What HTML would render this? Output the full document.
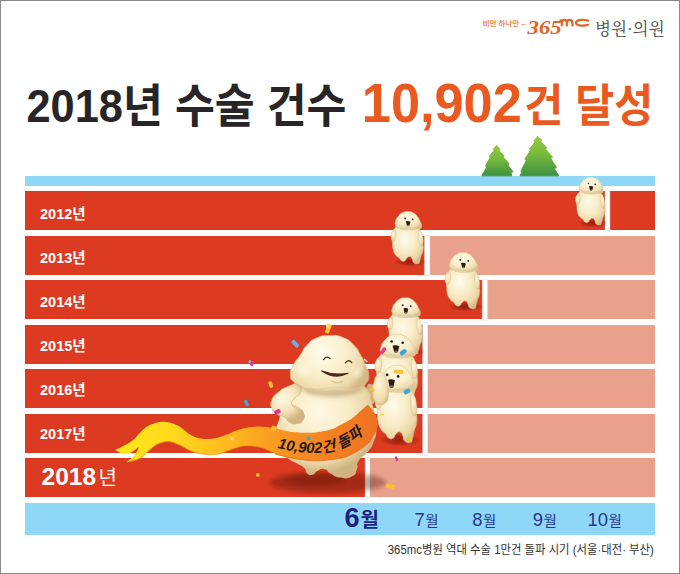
<!DOCTYPE html>
<html lang="ko">
<head>
<meta charset="utf-8">
<title>2018년 수술 건수 10,902건 달성</title>
<style>
html,body{margin:0;padding:0;background:#fff}
body{position:relative;width:680px;height:574px;overflow:hidden;font-family:"Liberation Sans",sans-serif}
.frame{position:absolute;left:0;top:0;width:678px;height:572px;border:1px solid #8b8b8b;background:#fff}
.sky{position:absolute;left:25.3px;top:176.2px;width:630.0px;height:9.8px;background:#8fd7f7}
.row{position:absolute;left:25.3px;width:630.0px;background:#dc3a21}
.pale{position:absolute;background:#eaa18b}
.months{position:absolute;left:25.3px;top:502.9px;width:630.0px;height:32px;background:#8fd7f7}
.art{position:absolute;left:0;top:0}
.art text{font-family:"Liberation Sans","Noto Sans CJK KR",sans-serif}
.sr{position:absolute;width:1px;height:1px;margin:-1px;padding:0;overflow:hidden;clip:rect(0 0 0 0);white-space:nowrap;border:0}
</style>
</head>
<body>
<div class="frame"></div>
<div class="sky"></div>
<div class="row" style="top:191.0px;height:39.0px"></div>
<div class="row" style="top:235.5px;height:39.0px"></div>
<div class="pale" style="top:235.5px;height:39.0px;left:430.3px;width:225.0px"></div>
<div class="row" style="top:280.0px;height:39.0px"></div>
<div class="pale" style="top:280.0px;height:39.0px;left:488.0px;width:167.3px"></div>
<div class="row" style="top:324.5px;height:39.0px"></div>
<div class="pale" style="top:324.5px;height:39.0px;left:428.2px;width:227.1px"></div>
<div class="row" style="top:369.0px;height:39.0px"></div>
<div class="pale" style="top:369.0px;height:39.0px;left:428.2px;width:227.1px"></div>
<div class="row" style="top:413.5px;height:39.0px"></div>
<div class="pale" style="top:413.5px;height:39.0px;left:428.2px;width:227.1px"></div>
<div class="row" style="top:458.0px;height:39.2px"></div>
<div class="pale" style="top:458.0px;height:39.2px;left:370.2px;width:285.1px"></div>
<div class="months"></div>
<svg class="art" width="680" height="574" viewBox="0 0 680 574" aria-hidden="true">
<text x="26.5" y="121.6" font-size="46" font-weight="bold" fill="#272526" textLength="320" lengthAdjust="spacingAndGlyphs" xml:space="preserve">2018년 수술 건수</text>
<text x="361.8" y="122" font-size="55" font-weight="bold" fill="#ea5a20" textLength="160" lengthAdjust="spacingAndGlyphs">10,902</text>
<text x="524.3" y="122" font-size="45" font-weight="bold" fill="#ea5a20" textLength="129" lengthAdjust="spacingAndGlyphs" xml:space="preserve">건 달성</text>
<text x="40" y="219" font-size="14.5" font-weight="bold" fill="#fff">2012년</text>
<text x="40" y="262.94" font-size="14.5" font-weight="bold" fill="#fff">2013년</text>
<text x="40" y="306.88" font-size="14.5" font-weight="bold" fill="#fff">2014년</text>
<text x="40" y="350.82" font-size="14.5" font-weight="bold" fill="#fff">2015년</text>
<text x="40" y="394.76" font-size="14.5" font-weight="bold" fill="#fff">2016년</text>
<text x="40" y="438.7" font-size="14.5" font-weight="bold" fill="#fff">2017년</text>
<text x="41.6" y="484.76" font-size="24.5" font-weight="bold" fill="#fff">2018<tspan dx="2.5" font-size="20" font-weight="normal">년</tspan></text>
<text x="344.5" y="526.6" font-size="27" font-weight="bold" fill="#1b1f83">6<tspan dx="1" font-size="20">월</tspan></text>
<text x="414.5" y="526" font-size="18.5" fill="#27368f">7<tspan dx="0.5" font-size="14.5">월</tspan></text>
<text x="472.3" y="526" font-size="18.5" fill="#27368f">8<tspan dx="0.5" font-size="14.5">월</tspan></text>
<text x="532.7" y="526" font-size="18.5" fill="#27368f">9<tspan dx="0.5" font-size="14.5">월</tspan></text>
<text x="587.5" y="526" font-size="18.5" fill="#27368f">10<tspan dx="0.5" font-size="14.5">월</tspan></text>
<text x="387.8" y="553.6" font-size="12.5" fill="#333" textLength="266" lengthAdjust="spacingAndGlyphs" xml:space="preserve">365mc병원 역대 수술 1만건 돌파 시기 (서울·대전· 부산)</text>
<defs><linearGradient id="tg" x1="0" y1="0" x2="0" y2="1"><stop offset="0" stop-color="#97cc3c"/><stop offset=".5" stop-color="#72b63e"/><stop offset="1" stop-color="#3f9142"/></linearGradient></defs>
<path fill="url(#tg)" stroke="url(#tg)" stroke-width="1" stroke-linejoin="round" d="M496.5 145.2 L500.1 149.7 L499.2 150.7 L504.3 156.0 L503.1 157.1 L509.2 163.8 L507.8 165.0 L512.9 171.7 L510.8 172.5 L511.7 175.8 L481.8 175.8 L486.9 166.8 L485.4 165.9 L490.3 157.5 L489.1 156.6 L494.0 150.7 L493.1 149.7Z"/>
<path fill="url(#tg)" stroke="url(#tg)" stroke-width="1" stroke-linejoin="round" d="M537.5 136.6 L541.9 140.3 L540.8 141.7 L546.9 148.0 L545.5 149.3 L552.6 157.3 L550.8 158.6 L556.6 167.6 L554.3 168.5 L558.8 175.8 L519.9 175.8 L522.3 171.8 L520.9 171.2 L526.3 160.3 L524.8 159.3 L530.7 150.1 L529.5 149.1 L534.9 142.1 L533.8 141.1Z"/>
<rect x="605.0" y="190.8" width="5.0" height="40.4" rx="0.8" fill="#fff" stroke="#c9cbd6" stroke-width="0.5"/>
<rect x="424.4" y="235.3" width="5.6" height="40.4" rx="0.8" fill="#fff" stroke="#c9cbd6" stroke-width="0.5"/>
<rect x="482.2" y="279.8" width="5.6" height="40.4" rx="0.8" fill="#fff" stroke="#c9cbd6" stroke-width="0.5"/>
<rect x="365.1" y="457.8" width="4.9" height="40.4" rx="0.8" fill="#fff" stroke="#c9cbd6" stroke-width="0.5"/>
<rect x="422.6" y="322.4" width="5.3" height="133.2" rx="0.8" fill="#fff" stroke="#c9cbd6" stroke-width="0.5"/>
<defs>
<radialGradient id="gb" cx=".42" cy=".36" r=".7"><stop offset="0" stop-color="#fffbea"/><stop offset=".45" stop-color="#f9edc9"/><stop offset=".8" stop-color="#ecd9a8"/><stop offset="1" stop-color="#d6bb86"/></radialGradient>
<radialGradient id="gh" cx=".45" cy=".35" r=".68"><stop offset="0" stop-color="#fffbe8"/><stop offset=".5" stop-color="#faefcd"/><stop offset=".85" stop-color="#eedcae"/><stop offset="1" stop-color="#dcc391"/></radialGradient>
<radialGradient id="ga" cx=".4" cy=".35" r=".75"><stop offset="0" stop-color="#fdf5d8"/><stop offset=".7" stop-color="#efdcae"/><stop offset="1" stop-color="#d2b682"/></radialGradient>
<radialGradient id="gs" cx=".5" cy=".5" r=".5"><stop offset="0" stop-color="#7d1408" stop-opacity=".75"/><stop offset=".6" stop-color="#8f1a0a" stop-opacity=".5"/><stop offset="1" stop-color="#a8200d" stop-opacity="0"/></radialGradient>
<radialGradient id="gS" cx=".5" cy=".5" r=".5"><stop offset="0" stop-color="#6b1006" stop-opacity=".62"/><stop offset=".7" stop-color="#7a1408" stop-opacity=".5"/><stop offset="1" stop-color="#8d1a0b" stop-opacity="0"/></radialGradient>
<linearGradient id="rib" gradientUnits="userSpaceOnUse" x1="116" y1="0" x2="380" y2="0"><stop offset="0" stop-color="#ffe81a"/><stop offset=".21" stop-color="#ffd91c"/><stop offset=".455" stop-color="#fdb51f"/><stop offset=".66" stop-color="#f7921f"/><stop offset=".8" stop-color="#f58220"/><stop offset="1" stop-color="#ef7021"/></linearGradient>

<filter id="b2" x="-30%" y="-30%" width="160%" height="160%"><feGaussianBlur stdDeviation="2"/></filter>
<filter id="b1" x="-30%" y="-30%" width="160%" height="160%"><feGaussianBlur stdDeviation="1"/></filter>
<radialGradient id="Gb" gradientUnits="userSpaceOnUse" cx="318" cy="412" r="62"><stop offset="0" stop-color="#fff9e4"/><stop offset=".5" stop-color="#f8ebc6"/><stop offset=".82" stop-color="#ead6a6"/><stop offset="1" stop-color="#cfb480"/></radialGradient>
<radialGradient id="Gh" gradientUnits="userSpaceOnUse" cx="322" cy="352" r="48"><stop offset="0" stop-color="#fffbea"/><stop offset=".5" stop-color="#faefcc"/><stop offset=".85" stop-color="#ecd9aa"/><stop offset="1" stop-color="#d4ba86"/></radialGradient>
<radialGradient id="Ga" gradientUnits="userSpaceOnUse" cx="283" cy="398" r="24"><stop offset="0" stop-color="#fff8e0"/><stop offset=".6" stop-color="#f3e2b7"/><stop offset="1" stop-color="#d0b480"/></radialGradient>
<radialGradient id="Gc" cx=".5" cy=".5" r=".5"><stop offset="0" stop-color="#fffdf0" stop-opacity=".9"/><stop offset="1" stop-color="#fffdf0" stop-opacity="0"/></radialGradient>
<path id="ribtext" d="M277 448 Q318 458 342 448 Q358 441 375 423" fill="none"/>
<symbol id="m" overflow="visible"><ellipse cx="2.5" cy="54" rx="17.5" ry="5" fill="url(#gs)"/><path d="M-9.5 15.5C-14.4 16.9 -12.1 15.9 -14.7 18.8C-17.3 21.7 -16.6 20.8 -17.4 24.1C-18.2 27.4 -17.3 25.5 -17.0 28.8C-16.7 32.1 -16.9 30.3 -16.5 34.0C-16.1 37.7 -16.9 36.0 -15.9 40.0C-14.9 44.0 -15.7 42.8 -13.5 46.1C-11.3 49.4 -11.3 47.8 -9.2 50.0C-7.1 52.2 -9.1 51.7 -7.2 52.7C-5.3 53.7 -5.5 53.9 -3.4 53.0C-1.3 52.1 -2.9 51.5 -1.0 50.0C0.9 48.5 0.5 48.0 2.4 48.4C4.3 48.8 3.5 49.0 4.8 51.2C6.1 53.4 4.2 53.4 6.4 55.0C8.6 56.6 9.1 56.6 11.3 56.0C13.5 55.4 11.9 55.9 12.9 53.2C13.9 50.5 13.0 52.0 14.2 48.0C15.4 44.0 15.8 46.0 16.4 41.2C17.0 36.4 16.3 38.0 16.0 33.5C15.7 29.0 16.0 31.4 15.4 27.8C14.8 24.2 15.8 26.0 14.2 22.6C12.6 19.2 15.2 20.3 10.5 17.6C5.8 14.9 6.7 15.2 0.0 14.5C-6.7 13.8 -4.6 14.1 -9.5 15.5Z" fill="url(#gb)" stroke="#d9c08c" stroke-width=".5"/><path d="M-14.2 19.6C-15.7 19.3 -15.7 19.7 -17.0 22.0C-18.3 24.3 -18.0 23.6 -18.0 26.5C-18.0 29.4 -18.1 28.9 -17.0 30.6C-15.9 32.3 -15.9 32.5 -14.6 31.6C-13.3 30.7 -13.7 30.9 -13.0 28.0C-12.3 25.1 -12.2 25.6 -12.6 22.8C-13.0 20.0 -12.7 19.9 -14.2 19.6Z" fill="url(#ga)" stroke="#d4b987" stroke-width=".35"/><path d="M12.4 20.6C13.5 19.1 13.3 20.1 14.6 22.6C15.9 25.1 15.6 24.3 16.2 28.0C16.8 31.7 16.9 30.7 16.4 33.6C15.9 36.5 15.9 36.5 14.6 36.6C13.3 36.7 13.7 37.2 12.6 34.0C11.5 30.8 11.5 31.5 11.4 27.0C11.3 22.5 11.3 22.1 12.4 20.6Z" fill="url(#ga)" stroke="#d4b987" stroke-width=".35"/><ellipse cx="1" cy="18.2" rx="10.5" ry="2" fill="#b89a62" opacity=".35"/><path d="M-0.1 0.0C3.6 0.0 2.1 -0.5 5.4 1.1C8.7 2.7 7.3 1.8 9.8 4.8C12.3 7.8 11.3 6.5 13.0 10.0C14.7 13.5 14.9 12.5 14.8 15.2C14.7 17.9 15.1 17.5 12.8 18.2C10.5 18.9 12.1 17.4 8.0 17.2C3.9 17.0 5.4 17.8 0.5 17.6C-4.4 17.4 -3.1 16.7 -6.8 16.6C-10.5 16.5 -8.5 17.9 -10.6 17.4C-12.7 16.9 -12.4 17.5 -13.2 15.0C-14.0 12.5 -14.1 13.3 -13.0 9.8C-11.9 6.3 -12.3 7.5 -9.8 4.6C-7.3 1.7 -8.8 2.6 -5.6 1.1C-2.4 -0.4 -3.8 0.0 -0.1 0.0Z" fill="url(#gh)" stroke="#dcc594" stroke-width=".5"/><g transform="translate(0.0 0.0) scale(1.0)"><circle cx="-2.8" cy="7.3" r=".95" fill="#2a2118"/><circle cx="5.2" cy="8.3" r=".95" fill="#2a2118"/><path d="M-2.1 10.4Q.4 9.7 2.8 10.8L1.8 15Q.4 16.3-1 15Z" fill="#2b1b15"/><path d="M-.6 14.4Q.4 13.6 1.5 14.5L1.5 15.1Q.4 16-.8 15.1Z" fill="#8a7468"/></g></symbol></defs>
<use href="#m" transform="translate(590.8 177.4) scale(0.845)"/>
<use href="#m" transform="translate(407.8 211.6) scale(0.93)"/>
<use href="#m" transform="translate(463.1 252.6) scale(1.0)"/>
<ellipse cx="328" cy="482.6" rx="58" ry="10.6" fill="#3c0a00" opacity=".34" filter="url(#b2)"/><ellipse cx="316" cy="479.6" rx="30" ry="6" fill="#3c0a00" opacity=".22" filter="url(#b2)"/>
<rect x="-2.1" y="-4.8" width="4.2" height="9.6" rx="1.2" fill="#fbc42e" transform="translate(328.4 328.6) rotate(22)"/><rect x="-1.7" y="-1.8" width="3.4" height="3.6" rx="1" fill="#fde27c" transform="translate(327.9 326.2) rotate(22)"/><rect x="-2.0" y="-4.3" width="4.0" height="8.6" rx="1.4" fill="#5fb4e6" transform="translate(295.2 343.8) rotate(-42)"/><rect x="-1.7" y="-2.3" width="3.4" height="4.6" rx="0.8" fill="#e6349a" transform="translate(252.0 363.6) rotate(30)"/><rect x="-1.2" y="-1.5" width="2.4" height="3.0" rx="0.6" fill="#6ec3ea" transform="translate(249.8 361.6) rotate(30)"/><rect x="-1.8" y="-3.2" width="3.6" height="6.4" rx="1" fill="#fbc42e" transform="translate(270.8 384.6) rotate(-20)"/><rect x="-1.6" y="-3.2" width="3.2" height="6.4" rx="1" fill="#39a9e0" transform="translate(246.4 403.0) rotate(-25)"/><rect x="-1.6" y="-1.6" width="3.2" height="3.2" rx="0.4" fill="#fbc83c" transform="translate(257.9 475.0) rotate(8)"/><rect x="-2.4" y="-0.8" width="4.8" height="1.6" rx="0.6" fill="#d9d2c8" transform="translate(365.6 360.4) rotate(40)"/>
<use href="#m" transform="translate(405.5 297.9) scale(1.0)"/>
<g transform="translate(397.2 334.4) scale(1.23 1.2)"><path d="M-9.5 15.5C-14.4 16.9 -12.1 15.9 -14.7 18.8C-17.3 21.7 -16.6 20.8 -17.4 24.1C-18.2 27.4 -17.3 25.5 -17.0 28.8C-16.7 32.1 -16.9 30.3 -16.5 34.0C-16.1 37.7 -16.9 36.0 -15.9 40.0C-14.9 44.0 -15.7 42.8 -13.5 46.1C-11.3 49.4 -11.3 47.8 -9.2 50.0C-7.1 52.2 -9.1 51.7 -7.2 52.7C-5.3 53.7 -5.5 53.9 -3.4 53.0C-1.3 52.1 -2.9 51.5 -1.0 50.0C0.9 48.5 0.5 48.0 2.4 48.4C4.3 48.8 3.5 49.0 4.8 51.2C6.1 53.4 4.2 53.4 6.4 55.0C8.6 56.6 9.1 56.6 11.3 56.0C13.5 55.4 11.9 55.9 12.9 53.2C13.9 50.5 13.0 52.0 14.2 48.0C15.4 44.0 15.8 46.0 16.4 41.2C17.0 36.4 16.3 38.0 16.0 33.5C15.7 29.0 16.0 31.4 15.4 27.8C14.8 24.2 15.8 26.0 14.2 22.6C12.6 19.2 15.2 20.3 10.5 17.6C5.8 14.9 6.7 15.2 0.0 14.5C-6.7 13.8 -4.6 14.1 -9.5 15.5Z" fill="url(#gb)" stroke="#d9c08c" stroke-width=".5"/><path d="M-14.2 19.6C-15.7 19.3 -15.7 19.7 -17.0 22.0C-18.3 24.3 -18.0 23.6 -18.0 26.5C-18.0 29.4 -18.1 28.9 -17.0 30.6C-15.9 32.3 -15.9 32.5 -14.6 31.6C-13.3 30.7 -13.7 30.9 -13.0 28.0C-12.3 25.1 -12.2 25.6 -12.6 22.8C-13.0 20.0 -12.7 19.9 -14.2 19.6Z" fill="url(#ga)" stroke="#d4b987" stroke-width=".35"/><path d="M12.4 20.6C13.5 19.1 13.3 20.1 14.6 22.6C15.9 25.1 15.6 24.3 16.2 28.0C16.8 31.7 16.9 30.7 16.4 33.6C15.9 36.5 15.9 36.5 14.6 36.6C13.3 36.7 13.7 37.2 12.6 34.0C11.5 30.8 11.5 31.5 11.4 27.0C11.3 22.5 11.3 22.1 12.4 20.6Z" fill="url(#ga)" stroke="#d4b987" stroke-width=".35"/><ellipse cx="1" cy="18.2" rx="10.5" ry="2" fill="#b89a62" opacity=".35"/><path d="M-0.1 0.0C3.6 0.0 2.1 -0.5 5.4 1.1C8.7 2.7 7.3 1.8 9.8 4.8C12.3 7.8 11.3 6.5 13.0 10.0C14.7 13.5 14.9 12.5 14.8 15.2C14.7 17.9 15.1 17.5 12.8 18.2C10.5 18.9 12.1 17.4 8.0 17.2C3.9 17.0 5.4 17.8 0.5 17.6C-4.4 17.4 -3.1 16.7 -6.8 16.6C-10.5 16.5 -8.5 17.9 -10.6 17.4C-12.7 16.9 -12.4 17.5 -13.2 15.0C-14.0 12.5 -14.1 13.3 -13.0 9.8C-11.9 6.3 -12.3 7.5 -9.8 4.6C-7.3 1.7 -8.8 2.6 -5.6 1.1C-2.4 -0.4 -3.8 0.0 -0.1 0.0Z" fill="url(#gh)" stroke="#dcc594" stroke-width=".5"/><g transform="translate(-1.4 -2.3) scale(1.12)"><circle cx="-2.8" cy="7.3" r=".95" fill="#2a2118"/><circle cx="5.2" cy="8.3" r=".95" fill="#2a2118"/><path d="M-2.1 10.4Q.4 9.7 2.8 10.8L1.8 15Q.4 16.3-1 15Z" fill="#2b1b15"/><path d="M-.6 14.4Q.4 13.6 1.5 14.5L1.5 15.1Q.4 16-.8 15.1Z" fill="#8a7468"/></g></g>
<rect x="-3.7" y="-1.8" width="7.4" height="3.6" rx="1.4" fill="#e8359b" transform="translate(383.2 350.7) rotate(-52)"/><rect x="-3.6" y="-2.2" width="7.2" height="4.4" rx="1.8" fill="#37a8e0" transform="translate(403.2 352.2) rotate(-35)"/>
<g transform="translate(397.0 365.4) scale(1.2 1.375)"><ellipse cx="2.5" cy="54" rx="17.5" ry="5" fill="url(#gs)"/><path d="M-9.5 15.5C-14.4 16.9 -12.1 15.9 -14.7 18.8C-17.3 21.7 -16.6 20.8 -17.4 24.1C-18.2 27.4 -17.3 25.5 -17.0 28.8C-16.7 32.1 -16.9 30.3 -16.5 34.0C-16.1 37.7 -16.9 36.0 -15.9 40.0C-14.9 44.0 -15.7 42.8 -13.5 46.1C-11.3 49.4 -11.3 47.8 -9.2 50.0C-7.1 52.2 -9.1 51.7 -7.2 52.7C-5.3 53.7 -5.5 53.9 -3.4 53.0C-1.3 52.1 -2.9 51.5 -1.0 50.0C0.9 48.5 0.5 48.0 2.4 48.4C4.3 48.8 3.5 49.0 4.8 51.2C6.1 53.4 4.2 53.4 6.4 55.0C8.6 56.6 9.1 56.6 11.3 56.0C13.5 55.4 11.9 55.9 12.9 53.2C13.9 50.5 13.0 52.0 14.2 48.0C15.4 44.0 15.8 46.0 16.4 41.2C17.0 36.4 16.3 38.0 16.0 33.5C15.7 29.0 16.0 31.4 15.4 27.8C14.8 24.2 15.8 26.0 14.2 22.6C12.6 19.2 15.2 20.3 10.5 17.6C5.8 14.9 6.7 15.2 0.0 14.5C-6.7 13.8 -4.6 14.1 -9.5 15.5Z" fill="url(#gb)" stroke="#d9c08c" stroke-width=".5"/><path d="M-14.2 19.6C-15.7 19.3 -15.7 19.7 -17.0 22.0C-18.3 24.3 -18.0 23.6 -18.0 26.5C-18.0 29.4 -18.1 28.9 -17.0 30.6C-15.9 32.3 -15.9 32.5 -14.6 31.6C-13.3 30.7 -13.7 30.9 -13.0 28.0C-12.3 25.1 -12.2 25.6 -12.6 22.8C-13.0 20.0 -12.7 19.9 -14.2 19.6Z" fill="url(#ga)" stroke="#d4b987" stroke-width=".35"/><path d="M12.4 20.6C13.5 19.1 13.3 20.1 14.6 22.6C15.9 25.1 15.6 24.3 16.2 28.0C16.8 31.7 16.9 30.7 16.4 33.6C15.9 36.5 15.9 36.5 14.6 36.6C13.3 36.7 13.7 37.2 12.6 34.0C11.5 30.8 11.5 31.5 11.4 27.0C11.3 22.5 11.3 22.1 12.4 20.6Z" fill="url(#ga)" stroke="#d4b987" stroke-width=".35"/><ellipse cx="1" cy="18.2" rx="10.5" ry="2" fill="#b89a62" opacity=".35"/><path d="M-0.1 0.0C3.6 0.0 2.1 -0.5 5.4 1.1C8.7 2.7 7.3 1.8 9.8 4.8C12.3 7.8 11.3 6.5 13.0 10.0C14.7 13.5 14.9 12.5 14.8 15.2C14.7 17.9 15.1 17.5 12.8 18.2C10.5 18.9 12.1 17.4 8.0 17.2C3.9 17.0 5.4 17.8 0.5 17.6C-4.4 17.4 -3.1 16.7 -6.8 16.6C-10.5 16.5 -8.5 17.9 -10.6 17.4C-12.7 16.9 -12.4 17.5 -13.2 15.0C-14.0 12.5 -14.1 13.3 -13.0 9.8C-11.9 6.3 -12.3 7.5 -9.8 4.6C-7.3 1.7 -8.8 2.6 -5.6 1.1C-2.4 -0.4 -3.8 0.0 -0.1 0.0Z" fill="url(#gh)" stroke="#dcc594" stroke-width=".5"/><g transform="translate(-5.0 -1.6) scale(1.15)"><circle cx="-2.8" cy="7.3" r=".95" fill="#2a2118"/><circle cx="5.2" cy="8.3" r=".95" fill="#2a2118"/><path d="M-2.1 10.4Q.4 9.7 2.8 10.8L1.8 15Q.4 16.3-1 15Z" fill="#2b1b15"/><path d="M-.6 14.4Q.4 13.6 1.5 14.5L1.5 15.1Q.4 16-.8 15.1Z" fill="#8a7468"/></g></g>
<rect x="-4.5" y="-2.0" width="9.0" height="4.0" rx="1.2" fill="#fbc233" transform="translate(398.6 371.8) rotate(4)"/><rect x="-3.3" y="-2.3" width="6.6" height="4.6" rx="1.6" fill="#37a8e0" transform="translate(407.0 391.5) rotate(-25)"/>
<rect x="-2.1" y="-1.5" width="4.2" height="3.0" rx="0.6" fill="#fbc02c" transform="translate(410.0 439.4) rotate(30)"/><rect x="-2.0" y="-0.7" width="4.0" height="1.4" rx="0.5" fill="#fbd054" transform="translate(381.8 414.8) rotate(0)"/>
<path d="M367.0 386.6C368.7 382.6 368.8 384.1 372.0 384.6C375.2 385.1 374.7 384.5 376.6 388.0C378.5 391.5 378.1 390.5 377.6 395.0C377.1 399.5 377.3 398.9 375.0 401.6C372.7 404.3 373.3 404.7 370.6 403.0C367.9 401.3 368.2 402.1 367.0 396.6C365.8 391.1 365.3 390.6 367.0 386.6Z" fill="url(#Ga)" stroke="#cdb07c" stroke-width=".5"/><path d="M306.0 382.0C293.3 385.3 299.5 381.3 292.0 388.0C284.5 394.7 287.7 392.0 283.5 402.0C279.3 412.0 281.9 408.7 279.5 418.0C277.1 427.3 277.0 422.3 276.2 430.0C275.4 437.7 275.3 433.8 277.2 441.0C279.1 448.2 278.0 445.6 281.8 451.5C285.6 457.4 283.4 454.8 288.5 458.8C293.6 462.8 291.8 460.5 297.0 463.6C302.2 466.7 300.9 464.8 304.2 468.0C307.5 471.2 304.2 470.9 307.0 473.2C309.8 475.5 309.1 475.5 312.6 474.8C316.1 474.1 313.4 472.9 317.4 471.0C321.4 469.1 320.2 468.3 324.6 469.2C329.0 470.1 325.5 470.8 330.6 473.6C335.7 476.4 333.0 476.6 340.0 477.6C347.0 478.6 345.9 479.5 351.6 476.6C357.3 473.7 354.7 474.2 357.0 469.0C359.3 463.8 355.1 466.7 358.6 461.0C362.1 455.3 362.6 458.3 367.6 452.0C372.6 445.7 370.7 449.3 373.6 442.0C376.5 434.7 375.9 439.0 376.4 430.0C376.9 421.0 376.8 424.3 375.2 415.0C373.6 405.7 374.1 410.3 371.6 402.0C369.1 393.7 373.5 397.0 367.6 390.0C361.7 383.0 366.5 385.0 354.0 381.0C341.5 377.0 346.0 377.7 330.0 378.0C314.0 378.3 318.7 378.7 306.0 382.0Z" fill="url(#Gb)"/>
<path d="M115.4 449.9L116.7 449.3L118.4 448.4L120.5 447.4L122.8 446.3L125.2 445.1L127.5 443.8L129.8 442.5L131.8 441.1L133.6 439.6L135.4 437.9L137.1 436.1L138.7 434.3L140.4 432.5L141.9 430.7L143.5 429.2L145.1 427.9L146.7 426.8L148.2 425.9L149.7 425.1L151.2 424.5L152.7 423.9L154.1 423.4L155.6 423.0L157.0 422.6L158.4 422.3L159.7 422.0L161.0 421.8L162.3 421.7L163.6 421.7L164.9 421.8L166.2 421.9L167.6 422.1L169.0 422.4L170.5 422.8L172.0 423.3L173.6 423.8L175.1 424.4L176.6 425.1L178.1 425.8L179.5 426.6L180.9 427.5L182.2 428.4L183.5 429.5L184.8 430.6L186.1 431.7L187.4 432.7L188.7 433.7L190.0 434.5L191.3 435.2L192.6 435.9L193.8 436.5L195.1 437.0L196.4 437.5L197.8 437.9L199.1 438.2L200.6 438.5L202.1 438.7L203.7 438.9L205.4 439.0L207.1 439.0L208.8 439.0L210.5 438.9L212.2 438.7L213.9 438.5L215.6 438.2L217.2 437.8L218.9 437.4L220.5 436.8L222.2 436.3L223.8 435.7L225.5 435.1L227.1 434.5L228.7 433.9L230.3 433.2L231.9 432.5L233.5 431.8L235.2 431.0L236.8 430.4L238.5 429.7L240.3 429.2L242.2 428.7L244.1 428.3L246.1 427.9L248.1 427.5L250.1 427.2L252.2 426.9L254.2 426.7L256.2 426.6L258.2 426.6L260.2 426.6L262.2 426.7L264.1 426.8L266.1 427.0L268.1 427.2L270.1 427.5L272.1 427.8L274.1 428.1L276.2 428.6L278.2 429.1L280.3 429.6L282.3 430.1L284.3 430.6L286.2 431.0L288.0 431.4L289.8 431.7L291.6 432.0L293.3 432.2L295.0 432.4L296.6 432.6L297.9 432.8L299.1 432.9L300.0 433.0L300.0 459.4L299.1 459.2L297.8 459.0L296.3 458.7L294.7 458.4L292.9 458.0L291.2 457.7L289.5 457.3L288.0 457.0L286.6 456.7L285.4 456.4L284.2 456.1L282.9 455.9L281.7 455.5L280.4 455.2L279.0 454.7L277.4 454.2L275.7 453.5L273.8 452.7L271.8 451.8L269.8 450.9L267.7 450.0L265.6 449.1L263.5 448.3L261.5 447.7L259.5 447.2L257.5 446.8L255.4 446.5L253.4 446.2L251.4 446.0L249.4 445.9L247.5 445.9L245.6 445.9L243.8 446.1L242.1 446.3L240.5 446.7L238.8 447.1L237.2 447.6L235.6 448.1L234.0 448.6L232.4 449.1L230.8 449.6L229.1 450.3L227.5 450.9L225.8 451.6L224.2 452.3L222.5 452.9L220.9 453.4L219.2 453.8L217.5 454.1L215.9 454.3L214.2 454.5L212.6 454.6L210.9 454.6L209.2 454.6L207.6 454.5L205.9 454.4L204.2 454.2L202.6 454.0L200.9 453.8L199.3 453.5L197.6 453.1L196.0 452.7L194.3 452.2L192.7 451.7L191.0 451.0L189.3 450.3L187.6 449.4L185.9 448.4L184.3 447.5L182.6 446.6L181.0 445.8L179.5 445.1L178.1 444.5L176.7 443.9L175.3 443.3L174.0 442.8L172.8 442.4L171.5 442.0L170.2 441.7L168.9 441.6L167.6 441.6L166.2 441.6L164.9 441.8L163.5 442.1L162.2 442.4L160.9 442.8L159.6 443.3L158.3 443.8L157.1 444.4L155.9 445.1L154.7 445.9L153.6 446.7L152.4 447.6L151.3 448.6L150.1 449.5L149.0 450.4L147.9 451.4L146.8 452.4L145.7 453.4L144.7 454.5L143.5 455.6L142.4 456.6L141.1 457.5L139.8 458.3L138.2 459.0L136.5 459.7L134.5 460.3L132.6 460.8L130.7 461.3L129.0 461.7L127.6 462.0L126.5 462.3L127.3 461.6L128.6 460.6L130.0 459.5L131.4 458.2L132.8 456.9L134.0 455.6L135.1 454.2L136.2 452.5L137.2 450.8L138.1 449.2L138.6 448.0L138.6 447.4L138.0 447.5L137.0 448.3L135.6 449.4L134.0 450.7L132.4 451.8L131.0 452.6L129.7 453.1L128.3 453.6L127.0 453.9L125.7 454.1L124.3 454.1L123.0 454.0L121.6 453.6L120.2 452.9L118.7 452.0L117.4 451.2L116.2 450.4Z" fill="url(#rib)"/><path d="M126.5 462.3L127.6 462.0L129.0 461.7L130.7 461.3L132.6 460.8L134.5 460.3L136.5 459.7L138.2 459.0L139.8 458.3L141.1 457.5L142.4 456.6L143.5 455.6L144.7 454.5L145.7 453.4L146.8 452.4L147.9 451.4L149.0 450.4L150.1 449.5L151.3 448.6L152.4 447.6L153.6 446.7L154.7 445.9L155.9 445.1L157.1 444.4L158.3 443.8L159.6 443.3L160.9 442.8L162.2 442.4L163.5 442.1L164.9 441.8L166.2 441.6L167.6 441.6L168.9 441.6L170.2 441.7L171.5 442.0L172.8 442.4L174.0 442.8L175.3 443.3L176.7 443.9L178.1 444.5L179.5 445.1L181.0 445.8L182.6 446.6L184.3 447.5L185.9 448.4L187.6 449.4L189.3 450.3L191.0 451.0L192.7 451.7L194.3 452.2L196.0 452.7L197.6 453.1L199.3 453.5L200.9 453.8L202.6 454.0L204.2 454.2L205.9 454.4L207.6 454.5L209.2 454.6L210.9 454.6L212.6 454.6L214.2 454.5L215.9 454.3L217.5 454.1L219.2 453.8L220.9 453.4L222.5 452.9L224.2 452.3L225.8 451.6L227.5 450.9L229.1 450.3L230.8 449.6L232.4 449.1L234.0 448.6L235.6 448.1L237.2 447.6L238.8 447.1L240.5 446.7L242.1 446.3L243.8 446.1L245.6 445.9L247.5 445.9L249.4 445.9L251.4 446.0L253.4 446.2L255.4 446.5L257.5 446.8L259.5 447.2L261.5 447.7L263.5 448.3L265.6 449.1L267.7 450.0L269.8 450.9L271.8 451.8L273.8 452.7L275.7 453.5L277.4 454.2L279.0 454.7L280.4 455.2L281.7 455.5L282.9 455.9L284.2 456.1L285.4 456.4L286.6 456.7L288.0 457.0L289.5 457.3L291.2 457.7L292.9 458.0L294.7 458.4L296.3 458.7L297.8 459.0L299.1 459.2L300.0 459.4" fill="none" stroke="#e98a12" stroke-opacity=".55" stroke-width="1.2"/>
<path d="M275.0 429.8L275.8 429.9L276.8 430.1L278.0 430.3L279.3 430.5L280.8 430.8L282.2 431.0L283.7 431.2L285.0 431.4L286.3 431.6L287.6 431.7L288.9 431.8L290.3 432.0L291.6 432.1L293.0 432.2L294.3 432.3L295.6 432.4L296.9 432.5L298.2 432.6L299.5 432.6L300.8 432.7L302.1 432.7L303.4 432.8L304.7 432.8L306.0 432.8L307.2 432.8L308.4 432.8L309.6 432.8L310.8 432.8L312.0 432.8L313.3 432.7L314.7 432.6L316.2 432.4L317.9 432.1L319.8 431.8L321.9 431.5L324.0 431.1L326.1 430.7L328.1 430.2L330.0 429.8L331.6 429.3L333.0 428.8L334.3 428.3L335.4 427.7L336.5 427.1L337.5 426.5L338.3 425.9L339.2 425.4L340.0 425.0L340.7 424.7L341.3 424.4L341.8 424.2L342.2 424.0L342.6 423.8L343.1 423.6L343.7 423.3L344.4 422.9L345.3 422.4L346.3 421.9L347.3 421.3L348.5 420.6L349.6 419.9L350.8 419.2L352.0 418.4L353.1 417.6L354.2 416.7L355.3 415.8L356.5 414.7L357.6 413.7L358.7 412.6L359.8 411.6L360.8 410.7L361.8 409.8L362.7 409.0L363.7 408.2L364.5 407.4L365.4 406.7L366.2 406.1L366.9 405.5L367.4 405.0L367.9 404.6L368.4 405.2L369.1 406.0L369.9 406.9L370.7 408.0L371.6 409.1L372.5 410.2L373.3 411.3L374.0 412.4L374.6 413.5L375.2 414.6L375.7 415.7L376.2 416.8L376.6 417.9L377.0 419.0L377.3 420.1L377.5 421.1L377.6 422.1L377.7 423.0L377.7 423.9L377.6 424.8L377.5 425.6L377.4 426.5L377.2 427.3L377.0 428.1L376.8 428.9L376.5 429.7L376.2 430.4L375.9 431.2L375.6 431.9L375.2 432.6L374.8 433.4L374.4 434.2L373.9 435.1L373.4 436.1L372.9 437.1L372.3 438.1L371.7 439.0L371.2 439.9L370.8 440.7L370.5 441.2L369.8 441.7L369.0 442.5L367.9 443.3L366.8 444.3L365.6 445.3L364.3 446.3L363.1 447.2L362.0 448.0L360.9 448.7L359.9 449.4L358.9 450.1L357.8 450.8L356.8 451.4L355.7 452.0L354.7 452.6L353.6 453.2L352.6 453.8L351.6 454.3L350.6 454.8L349.6 455.3L348.6 455.8L347.5 456.3L346.3 456.7L345.0 457.1L343.6 457.5L342.0 457.9L340.4 458.2L338.7 458.5L337.0 458.8L335.2 459.1L333.4 459.4L331.6 459.6L329.8 459.8L327.9 460.0L326.0 460.2L324.0 460.4L322.1 460.5L320.1 460.6L318.1 460.7L316.2 460.7L314.3 460.7L312.3 460.6L310.4 460.5L308.4 460.4L306.5 460.3L304.6 460.1L302.6 459.8L300.7 459.6L298.7 459.3L296.7 459.0L294.7 458.6L292.7 458.1L290.7 457.7L288.8 457.3L287.0 456.9L285.3 456.5L283.7 456.1L282.1 455.8L280.6 455.4L279.2 455.1L277.9 454.7L276.7 454.4L275.8 454.2L275.0 454.0Z" fill="url(#rib)"/><path d="M370.5 441.2L369.8 441.7L369.0 442.5L367.9 443.3L366.8 444.3L365.6 445.3L364.3 446.3L363.1 447.2L362.0 448.0L360.9 448.7L359.9 449.4L358.9 450.1L357.8 450.8L356.8 451.4L355.7 452.0L354.7 452.6L353.6 453.2L352.6 453.8L351.6 454.3L350.6 454.8L349.6 455.3L348.6 455.8L347.5 456.3L346.3 456.7L345.0 457.1L343.6 457.5L342.0 457.9L340.4 458.2L338.7 458.5L337.0 458.8L335.2 459.1L333.4 459.4L331.6 459.6L329.8 459.8L327.9 460.0L326.0 460.2L324.0 460.4L322.1 460.5L320.1 460.6L318.1 460.7L316.2 460.7L314.3 460.7L312.3 460.6L310.4 460.5L308.4 460.4L306.5 460.3L304.6 460.1L302.6 459.8L300.7 459.6L298.7 459.3L296.7 459.0L294.7 458.6L292.7 458.1L290.7 457.7L288.8 457.3L287.0 456.9L285.3 456.5L283.7 456.1L282.1 455.8L280.6 455.4L279.2 455.1L277.9 454.7L276.7 454.4L275.8 454.2L275.0 454.0" fill="none" stroke="#d85f14" stroke-opacity=".55" stroke-width="1.1"/>
<text font-size="15" font-weight="bold" font-style="italic" fill="#1d1a18" xml:space="preserve"><textPath href="#ribtext" startOffset="0">10,902건 돌파</textPath></text>
<path d="M296 382Q312 392 336 389Q356 391 365 383Q362 393 350 395Q336 398 322 396Q304 396 296 382Z" fill="#a8874f" opacity=".5" filter="url(#b2)"/><path d="M330.0 335.6C338.7 335.5 335.1 334.5 343.0 337.6C350.9 340.7 347.8 339.3 353.6 345.0C359.4 350.7 356.4 347.8 360.4 354.6C364.4 361.4 362.9 358.7 365.6 365.4C368.3 372.1 368.3 368.8 368.6 374.6C368.9 380.4 369.6 378.5 366.4 382.8C363.2 387.1 365.1 385.5 359.0 387.4C352.9 389.3 355.6 388.5 348.0 388.4C340.4 388.3 344.9 387.1 336.2 387.2C327.5 387.3 330.7 388.3 322.0 388.8C313.3 389.3 317.0 389.5 310.0 388.6C303.0 387.7 306.5 388.5 301.0 386.2C295.5 383.9 297.1 385.7 293.6 381.8C290.1 377.9 290.5 380.0 290.4 374.4C290.3 368.8 290.0 371.6 293.4 365.0C296.8 358.4 296.1 361.3 300.6 354.6C305.1 347.9 301.5 350.6 307.0 345.0C312.5 339.4 309.3 340.9 317.0 337.8C324.7 334.7 321.3 335.7 330.0 335.6Z" fill="url(#Gh)" stroke="#d9c08e" stroke-width=".6"/><ellipse cx="303" cy="371" rx="9" ry="8" fill="url(#Gc)" opacity=".7"/><ellipse cx="357" cy="372" rx="8" ry="8" fill="url(#Gc)" opacity=".55"/><path d="M323.6 359.6Q326.6 355.2 330.2 358.6" fill="none" stroke="#4a2e1d" stroke-width="1.25" stroke-linecap="round"/><path d="M345.4 362.8Q348.6 358.6 351.8 362.6" fill="none" stroke="#4a2e1d" stroke-width="1.25" stroke-linecap="round"/><path d="M321.4 370.2Q334 375.2 347.8 372.8Q349.2 372.6 348.2 373.8Q335 380.6 321.6 371.4Q320.6 370.2 321.4 370.2Z" fill="#4b2a1a"/><path d="M331.5 381Q336.8 384.4 342.5 381.6" fill="none" stroke="#c9ab76" stroke-width="1" stroke-linecap="round" opacity=".8"/><path d="M298.0 384.6C293.7 382.9 294.7 383.7 288.0 386.4C281.3 389.1 283.3 387.8 277.8 392.6C272.3 397.4 273.5 395.3 271.6 400.8C269.7 406.3 270.3 404.5 272.2 409.0C274.1 413.5 273.3 411.7 277.4 414.4C281.5 417.1 280.2 414.3 284.4 417.0C288.6 419.7 285.8 420.4 290.0 422.6C294.2 424.8 292.7 424.3 297.0 423.6C301.3 422.9 300.5 423.7 302.8 420.4C305.1 417.1 305.3 417.9 303.8 413.6C302.3 409.3 302.4 410.7 298.4 407.6C294.4 404.5 293.1 407.3 291.8 404.2C290.5 401.1 291.5 402.6 294.6 398.4C297.7 394.2 299.9 396.2 301.0 391.6C302.1 387.0 302.3 386.3 298.0 384.6Z" fill="url(#Ga)" stroke="#cbae7a" stroke-width=".6"/><path d="M291.6 404.6Q296 408 302 413.4" fill="none" stroke="#c5a772" stroke-width=".8" opacity=".7"/>
<path d="M381.4 372.2C384.3 373.2 383.5 372.7 385.6 378.0C387.7 383.3 386.7 381.7 387.6 388.0C388.5 394.3 388.9 392.1 388.2 397.0C387.5 401.9 388.3 400.1 385.6 402.6C382.9 405.1 383.5 404.9 380.0 404.6C376.5 404.3 377.5 405.8 375.0 401.6C372.5 397.4 372.9 398.5 372.6 392.0C372.3 385.5 372.5 387.7 374.0 382.0C375.5 376.3 374.5 378.3 377.0 375.0C379.5 371.7 378.5 371.2 381.4 372.2Z" fill="url(#ga)" stroke="#cdb07c" stroke-width=".5"/>
<rect x="-2.0" y="-1.6" width="4.0" height="3.2" rx="0.8" fill="#fcc33c" transform="translate(372.6 389.8) rotate(15)"/>
<rect x="-2.5" y="-2.9" width="5.0" height="5.8" rx="1.4" fill="#fbb52b" transform="translate(273.6 428.6) rotate(18)"/><rect x="-1.9" y="-1.9" width="3.8" height="3.8" rx="1" fill="#38a7df" transform="translate(308.5 438.3) rotate(8)"/><rect x="-1.7" y="-1.7" width="3.4" height="3.4" rx="1" fill="#ffdb78" transform="translate(232.2 438.6) rotate(10)"/><rect x="-1.1" y="-2.5" width="2.2" height="5.0" rx="0.6" fill="#c83c9a" transform="translate(396.6 458.8) rotate(-25)"/><rect x="-4.3" y="-2.1" width="8.6" height="4.2" rx="0.8" fill="#fbc02c" transform="translate(390.2 486.2) rotate(14)"/><rect x="-3.2" y="-2.1" width="6.4" height="4.2" rx="1.2" fill="#e6349a" transform="translate(277.4 411.8) rotate(-24)"/>
<text x="482.8" y="25.5" font-size="7" font-weight="bold" fill="#ec8848" textLength="42.6" lengthAdjust="spacingAndGlyphs" xml:space="preserve">비만 하나만 –</text>
<text x="527.6" y="34.2" font-size="18" font-weight="bold" font-style="italic" fill="#e2621f" textLength="34" lengthAdjust="spacingAndGlyphs" style="font-family:'Liberation Serif',serif">365</text>
<path fill="none" stroke="#e2621f" stroke-width="2.2" stroke-linecap="round" stroke-linejoin="round" d="M560.4 20.4Q561.6 19.8 561.8 21.4V25.6M561.8 22.2Q562.4 19.8 564.6 19.8Q566.8 19.8 566.8 22.4V25.6M566.8 22.4Q567.2 19.8 569.6 19.8Q572.4 19.8 572.4 22.6V25.6M588 20.6Q585 19.6 581.4 19.8Q576 20.2 576 22.8Q576 25.4 581.4 25.6Q585 25.8 588 24.8"/>
<text x="595" y="34.6" font-size="17" fill="#4b4b4b" textLength="69.7" lengthAdjust="spacingAndGlyphs" style="font-family:'Liberation Serif','Noto Serif CJK SC','Noto Sans CJK KR',serif">병원·의원</text>
</svg>
<header class="sr"><p>비만 하나만 – 365mc 병원·의원</p><h1>2018년 수술 건수 10,902건 달성</h1></header>
<ol class="sr"><li>2012년</li><li>2013년</li><li>2014년</li><li>2015년</li><li>2016년</li><li>2017년</li><li>2018년 – 10,902건 돌파</li></ol>
<ul class="sr"><li>6월</li><li>7월</li><li>8월</li><li>9월</li><li>10월</li></ul>
<p class="sr">365mc병원 역대 수술 1만건 돌파 시기 (서울·대전· 부산)</p>
</body>
</html>
